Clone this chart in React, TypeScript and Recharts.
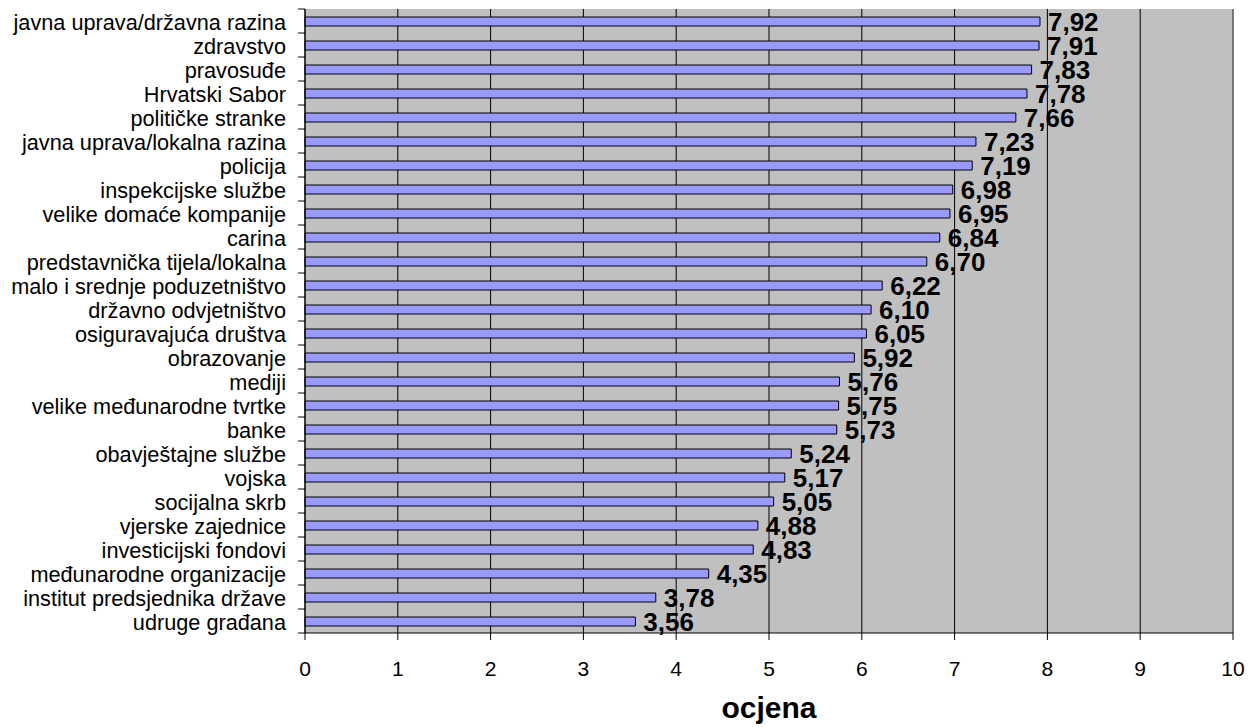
import React from 'react';
import { BarChart, Bar, XAxis, YAxis, CartesianGrid, LabelList, ReferenceLine } from 'recharts';

const categories = [
  'javna uprava/državna razina',
  'zdravstvo',
  'pravosuđe',
  'Hrvatski Sabor',
  'političke stranke',
  'javna uprava/lokalna razina',
  'policija',
  'inspekcijske službe',
  'velike domaće kompanije',
  'carina',
  'predstavnička tijela/lokalna',
  'malo i srednje poduzetništvo',
  'državno odvjetništvo',
  'osiguravajuća društva',
  'obrazovanje',
  'mediji',
  'velike međunarodne tvrtke',
  'banke',
  'obavještajne službe',
  'vojska',
  'socijalna skrb',
  'vjerske zajednice',
  'investicijski fondovi',
  'međunarodne organizacije',
  'institut predsjednika države',
  'udruge građana',
];

const values = [
  7.92, 7.91, 7.83, 7.78, 7.66, 7.23, 7.19, 6.98, 6.95, 6.84, 6.7, 6.22, 6.1,
  6.05, 5.92, 5.76, 5.75, 5.73, 5.24, 5.17, 5.05, 4.88, 4.83, 4.35, 3.78, 3.56,
];

const xTicks = [0, 1, 2, 3, 4, 5, 6, 7, 8, 9, 10];
const axisTitle = 'ocjena';

const data = categories.map((name, i) => ({ name, value: values[i] }));

const FONT = "Arial, 'Liberation Sans', sans-serif";
const TICK_GAP = 19;
const BAND = 24;

const CategoryTick = (props: any) => {
  const { x, y, payload, index } = props;
  const ax = x + TICK_GAP;
  return (
    <g>
      <text
        x={x}
        y={y + 1.5}
        dy="0.355em"
        textAnchor="end"
        fontFamily={FONT}
        fontSize={21.7}
        fill="#000"
      >
        {payload.value}
      </text>
      {index === 0 && <line x1={ax - 7} x2={ax} y1={y - BAND / 2} y2={y - BAND / 2} stroke="#000" />}
      <line x1={ax - 7} x2={ax} y1={y + BAND / 2} y2={y + BAND / 2} stroke="#000" />
    </g>
  );
};

const fmt = (v: any) => Number(v).toFixed(2).replace('.', ',');

export default function App() {
  return (
    <div style={{ position: 'absolute', left: 0, top: 0, width: 1248, height: 727, background: '#fff' }}>
      <BarChart
        width={1248}
        height={727}
        data={data}
        layout="vertical"
        margin={{ top: 9, right: 15, bottom: 0, left: 0 }}
      >
        <CartesianGrid
          horizontal={false}
          vertical={true}
          stroke="#000"
          strokeOpacity={1}
          fill="#C0C0C0"
          fillOpacity={1}
        />
        <ReferenceLine x={10} stroke="#808080" />
        <XAxis
          type="number"
          domain={[0, 10]}
          ticks={xTicks}
          interval={0}
          axisLine={{ stroke: '#000' }}
          tickLine={{ stroke: '#000' }}
          tickSize={7}
          tickMargin={21}
          height={94}
          tick={{ fontSize: 21, fill: '#000', fontFamily: FONT }}
          label={{
            value: axisTitle,
            position: 'insideBottom',
            offset: 9,
            style: { fontSize: 30, fontWeight: 'bold', fill: '#000', fontFamily: FONT },
          }}
        />
        <YAxis
          type="category"
          dataKey="name"
          width={305}
          interval={0}
          axisLine={{ stroke: '#000' }}
          tickLine={false}
          tickSize={0}
          tickMargin={TICK_GAP}
          tick={<CategoryTick />}
        />
        <Bar dataKey="value" fill="#9999FF" stroke="#000" strokeWidth={1} barSize={9} isAnimationActive={false}>
          <LabelList
            dataKey="value"
            position="right"
            offset={8}
            formatter={fmt}
            style={{ fontSize: 26, fontWeight: 'bold', fill: '#000', fontFamily: FONT }}
          />
        </Bar>
      </BarChart>
    </div>
  );
}
